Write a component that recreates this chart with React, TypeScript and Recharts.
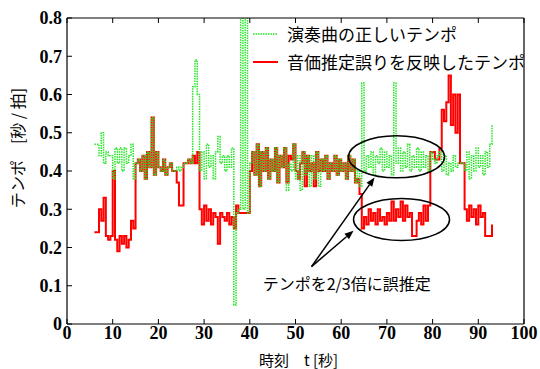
import React from "react";
import {
  LineChart, Line, XAxis, YAxis, Legend, ReferenceDot, ReferenceLine, Label,
} from "recharts";

// time axis: samples every 0.5 s from 6 s to 93 s
const TIME_START = 6;
const TIME_STEP = 0.5;

// 演奏曲の正しいテンポ [s/beat]
const correctTempo = [
  0.47, 0.47, 0.44, 0.50, 0.42, 0.45, 0.44, 0.44, 0.38, 0.46,
  0.42, 0.46, 0.40, 0.46, 0.42, 0.44, 0.47, 0.38, 0.42, 0.43,
  0.40, 0.44, 0.38, 0.45, 0.41, 0.54, 0.39, 0.45, 0.41, 0.40,
  0.43, 0.39, 0.41, 0.42, 0.40, 0.40, 0.41, 0.40, 0.41, 0.42,
  0.42, 0.43, 0.42, 0.62, 0.69, 0.60, 0.40, 0.45, 0.38, 0.47,
  0.41, 0.44, 0.38, 0.45, 0.49, 0.42, 0.44, 0.40, 0.44, 0.41,
  0.46, 0.05, 0.29, 0.30, 1.00, 0.30, 1.00, 0.29, 0.42, 0.45,
  0.39, 0.47, 0.36, 0.45, 0.40, 0.46, 0.38, 0.43, 0.40, 0.46,
  0.37, 0.44, 0.41, 0.46, 0.35, 0.42, 0.40, 0.47, 0.38, 0.44,
  0.35, 0.45, 0.39, 0.44, 0.36, 0.44, 0.38, 0.45, 0.36, 0.43,
  0.40, 0.44, 0.38, 0.42, 0.40, 0.44, 0.39, 0.43, 0.40, 0.42,
  0.38, 0.44, 0.40, 0.43, 0.37, 0.40, 0.36, 0.63, 0.40, 0.44,
  0.41, 0.45, 0.39, 0.44, 0.42, 0.46, 0.40, 0.45, 0.41, 0.44,
  0.39, 0.63, 0.42, 0.46, 0.40, 0.45, 0.41, 0.47, 0.40, 0.44,
  0.41, 0.46, 0.40, 0.45, 0.41, 0.44, 0.40, 0.45, 0.43, 0.42,
  0.44, 0.45, 0.40, 0.44, 0.39, 0.42, 0.40, 0.44, 0.41, 0.42,
  0.42, 0.42, 0.40, 0.45, 0.38, 0.44, 0.40, 0.46, 0.41, 0.44,
  0.39, 0.45, 0.41, 0.47, 0.52,
];

// 音価推定誤りを反映したテンポ [s/beat]
const estimatedTempo = [
  0.24, 0.24, 0.30, 0.27, 0.33, 0.23, 0.22, 0.23, 0.40, 0.22,
  0.19, 0.23, 0.21, 0.23, 0.20, 0.22, 0.27, 0.25, 0.42, 0.43,
  0.40, 0.44, 0.38, 0.45, 0.41, 0.54, 0.39, 0.45, 0.41, 0.40,
  0.43, 0.39, 0.41, 0.42, 0.40, 0.40, 0.37, 0.31, 0.31, 0.42,
  0.42, 0.43, 0.42, 0.44, 0.42, 0.45, 0.30, 0.26, 0.31, 0.27,
  0.30, 0.26, 0.29, 0.28, 0.21, 0.29, 0.28, 0.27, 0.29, 0.26,
  0.28, 0.25, 0.31, 0.29, 0.29, 0.29, 0.29, 0.29, 0.40, 0.45,
  0.39, 0.47, 0.36, 0.45, 0.40, 0.46, 0.38, 0.43, 0.40, 0.46,
  0.37, 0.44, 0.41, 0.46, 0.37, 0.44, 0.43, 0.47, 0.40, 0.38,
  0.42, 0.45, 0.36, 0.44, 0.40, 0.42, 0.36, 0.45, 0.40, 0.43,
  0.40, 0.44, 0.38, 0.42, 0.40, 0.44, 0.39, 0.43, 0.40, 0.42,
  0.38, 0.44, 0.40, 0.43, 0.37, 0.38, 0.34, 0.25, 0.28, 0.26,
  0.30, 0.27, 0.29, 0.26, 0.30, 0.27, 0.28, 0.26, 0.29, 0.27,
  0.32, 0.27, 0.30, 0.28, 0.32, 0.27, 0.31, 0.28, 0.29, 0.23,
  0.23, 0.27, 0.29, 0.26, 0.31, 0.27, 0.31, 0.45, 0.45, 0.43,
  0.43, 0.46, 0.56, 0.53, 0.58, 0.65, 0.52, 0.60, 0.50, 0.60,
  0.42, 0.42, 0.30, 0.27, 0.31, 0.28, 0.30, 0.26, 0.31, 0.28,
  0.29, 0.23, 0.23, 0.23, 0.26,
];

const xTicks = [0, 10, 20, 30, 40, 50, 60, 70, 80, 90, 100];
const yTicks = [0, 0.1, 0.2, 0.3, 0.4, 0.5, 0.6, 0.7, 0.8];

const SERIES = [
  { key: "correct", name: "演奏曲の正しいテンポ", color: "#22e622", dash: "1.5 1" },
  { key: "estimated", name: "音価推定誤りを反映したテンポ", color: "#ff0000", dash: undefined },
];

// annotations in data units
const ellipses = [
  { t: 72.1, v: 0.437 },
  { t: 73.2, v: 0.273 },
];
const arrowFrom = { t: 53.5, v: 0.15 };
const arrowTargets = [
  { t: 67.3, v: 0.383 },
  { t: 62.7, v: 0.244 },
];
const noteText = "テンポを2/3倍に誤推定";
const notePos = { t: 61.2, v: 0.108 };

const data = correctTempo.map((c, i) => ({
  t: TIME_START + i * TIME_STEP,
  correct: c,
  estimated: estimatedTempo[i],
}));

const TICK_FONT = "'Liberation Serif', serif";
const JP_FONT = "'Noto Sans CJK JP', sans-serif";
const TICK_LEN = 5;

function LeftTick({ x, y, payload }: any) {
  return (
    <g>
      <line x1={x} x2={x + TICK_LEN} y1={y} y2={y} stroke="#000" />
      <text x={x - 5} y={y} dy="0.35em" textAnchor="end" fontFamily={TICK_FONT}
        fontWeight="bold" fontSize={18} fill="#000">{String(payload.value)}</text>
    </g>
  );
}

function RightTick({ x, y }: any) {
  return <line x1={x} x2={x - TICK_LEN} y1={y} y2={y} stroke="#000" />;
}

function BottomTick({ x, y, payload }: any) {
  return (
    <g>
      <line x1={x} x2={x} y1={y} y2={y - TICK_LEN} stroke="#000" />
      <text x={x} y={y + 15} textAnchor="middle" fontFamily={TICK_FONT}
        fontWeight="bold" fontSize={18} fill="#000">{String(payload.value)}</text>
    </g>
  );
}

function TopTick({ x, y }: any) {
  return <line x1={x} x2={x} y1={y} y2={y + TICK_LEN} stroke="#000" />;
}

function Arrow(props: any) {
  const { x1, y1, x2, y2 } = props;
  const a = Math.atan2(y2 - y1, x2 - x1);
  const L = 9, W = 3.5;
  const bx = x2 - L * Math.cos(a), by = y2 - L * Math.sin(a);
  const px = -Math.sin(a) * W, py = Math.cos(a) * W;
  return (
    <g>
      <line x1={x1} y1={y1} x2={bx} y2={by} stroke="#000" strokeWidth={1.5} />
      <polygon points={`${x2},${y2} ${bx + px},${by + py} ${bx - px},${by - py}`} fill="#000" />
    </g>
  );
}

function LegendBox() {
  return (
    <div style={{ fontFamily: JP_FONT, fontSize: 17, lineHeight: "28px", color: "#000" }}>
      {SERIES.map((s) => (
        <div key={s.key} style={{ display: "flex", alignItems: "center", whiteSpace: "nowrap" }}>
          <svg width={30} height={10} style={{ marginRight: 4 }}>
            <line x1={0} x2={25} y1={5} y2={5} stroke={s.color}
              strokeWidth={s.dash ? 1.5 : 2} strokeDasharray={s.dash} />
          </svg>
          <span>{s.name}</span>
        </div>
      ))}
    </div>
  );
}

export default function App() {
  return (
    <div style={{ position: "absolute", left: 0, top: 0, width: 540, height: 369, background: "#fff" }}>
      <LineChart width={540} height={369} data={data}
        margin={{ top: 17, right: 15, bottom: 0, left: 7 }}>
        <XAxis xAxisId="b" dataKey="t" type="number" domain={[0, 100]} ticks={xTicks}
          tick={<BottomTick />} tickLine={false} tickSize={0} tickMargin={0} height={45}
          axisLine={{ stroke: "#000", strokeWidth: 1.2 }} interval={0}>
          <Label content={({ viewBox }: any) => (
            <text x={viewBox.x + viewBox.width / 2 + 3} y={viewBox.y + 35} textAnchor="middle"
              dominantBaseline="central" fontFamily={JP_FONT} fontSize={15} fill="#000">
              時刻　t [秒]
            </text>
          )} />
        </XAxis>
        <XAxis xAxisId="top" orientation="top" dataKey="t" type="number" domain={[0, 100]}
          ticks={xTicks} tick={<TopTick />} tickLine={false} tickSize={0} tickMargin={0}
          height={1} axisLine={{ stroke: "#000", strokeWidth: 1.2 }} interval={0} />
        <YAxis yAxisId="l" domain={[0, 0.8]} ticks={yTicks} allowDataOverflow
          tick={<LeftTick />} tickLine={false} tickSize={0} tickMargin={0} width={60}
          axisLine={{ stroke: "#000", strokeWidth: 1.2 }} interval={0}>
          <Label content={({ viewBox }: any) => {
            const cx = viewBox.x + 10;
            const cy = viewBox.y + viewBox.height / 2 - 23;
            return (
              <text x={cx} y={cy} textAnchor="middle" dominantBaseline="central"
                transform={`rotate(-90 ${cx} ${cy})`} fontFamily={JP_FONT} fontSize={16} fill="#000">
                テンポ　[秒 / 拍]
              </text>
            );
          }} />
        </YAxis>
        <YAxis yAxisId="r" orientation="right" domain={[0, 0.8]} ticks={yTicks}
          tick={<RightTick />} tickLine={false} tickSize={0} tickMargin={0} width={1}
          axisLine={{ stroke: "#000", strokeWidth: 1.2 }} interval={0} />

        <Line xAxisId="b" yAxisId="l" type="stepAfter" dataKey="estimated" name={SERIES[1].name}
          stroke={SERIES[1].color} strokeWidth={2} dot={false} isAnimationActive={false} />
        <Line xAxisId="b" yAxisId="l" type="stepAfter" dataKey="correct" name={SERIES[0].name}
          stroke={SERIES[0].color} strokeWidth={1.5} strokeDasharray={SERIES[0].dash}
          dot={false} isAnimationActive={false} />

        {ellipses.map((e, i) => (
          <ReferenceDot key={i} xAxisId="b" yAxisId="l" x={e.t} y={e.v}
            shape={(p: any) => (
              <ellipse cx={p.cx} cy={p.cy} rx={48} ry={21} fill="none" stroke="#000" strokeWidth={1.5} />
            )} />
        ))}
        {arrowTargets.map((a, i) => (
          <ReferenceLine key={i} xAxisId="b" yAxisId="l"
            segment={[{ x: arrowFrom.t, y: arrowFrom.v }, { x: a.t, y: a.v }]}
            shape={(p: any) => <Arrow {...p} />} />
        ))}
        <ReferenceDot xAxisId="b" yAxisId="l" x={notePos.t} y={notePos.v}
          shape={(p: any) => (
            <text x={p.cx} y={p.cy} textAnchor="middle" dominantBaseline="central"
              fontFamily={JP_FONT} fontSize={16} fill="#000">{noteText}</text>
          )} />

        <Legend layout="vertical" align="center" verticalAlign="middle"
          wrapperStyle={{ top: 20, left: 253, width: 290 }} content={() => <LegendBox />} />
      </LineChart>
    </div>
  );
}
